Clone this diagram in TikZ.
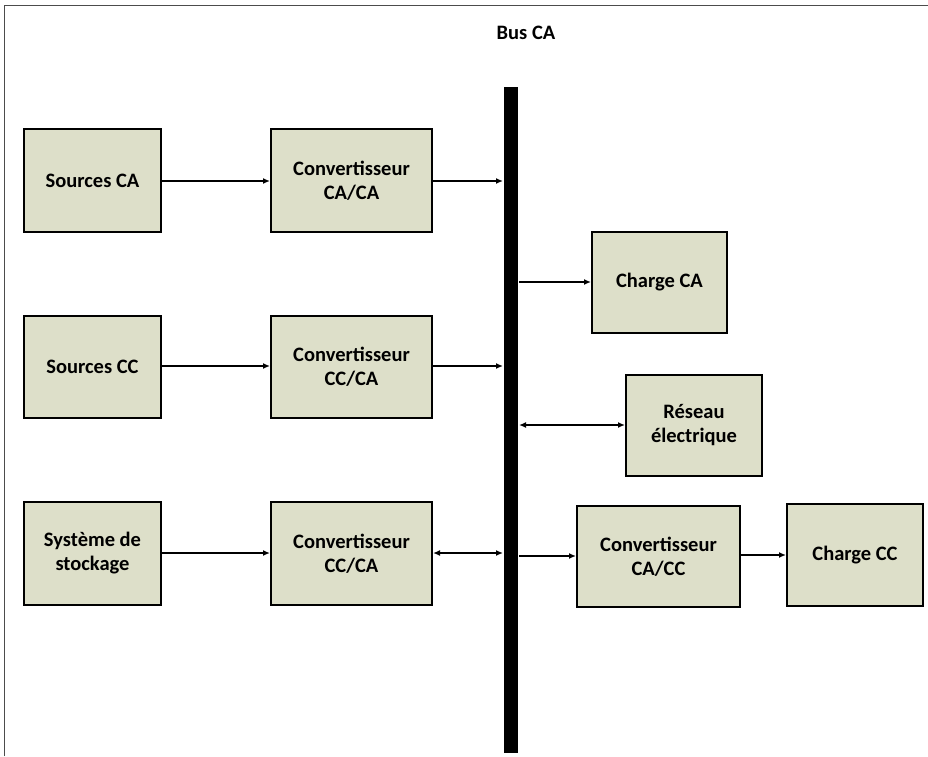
\documentclass[tikz,border=0pt]{standalone}
\usepackage{fontspec}
\setmainfont{Carlito}
\usetikzlibrary{arrows.meta}
\definecolor{boxfill}{HTML}{DDDFC9}
\tikzset{
  lbl/.style={font=\bfseries\fontsize{20.5}{24}\selectfont},
  blk/.style={lbl, draw=black, line width=2pt, fill=boxfill, inner sep=0pt, align=center},
  conn/.style={line width=1.6pt, -{Latex[length=7pt,width=6pt]}},
  dconn/.style={line width=1.6pt, {Latex[length=7pt,width=6pt]}-{Latex[length=7pt,width=6pt]}}
}
\newcommand{\bx}[6]{\node[blk, minimum width=#4pt-#2pt, minimum height=#5pt-#3pt] (#1) at ({(#2+#4)/2},{(#3+#5)/2}) {#6};}
\begin{document}
\begin{tikzpicture}[x=1pt,y=-1pt]
\useasboundingbox (0,0) rectangle (928,756);
\draw[line width=1pt, black!70] (4,756) -- (4,5) -- (928,5);
\node[lbl] (title) at (526,33) {Bus CA};
\fill (504,87) rectangle (518,753);
\coordinate (busL) at (503,0);
\coordinate (busR) at (519,0);
\bx{sca}{24}{129}{161}{232}{Sources CA}
\bx{c1}{271}{129}{432}{232}{Convertisseur\\CA/CA}
\bx{chca}{592}{232}{727}{333}{Charge CA}
\bx{scc}{24}{316}{161}{418}{Sources CC}
\bx{c2}{271}{316}{432}{418}{Convertisseur\\CC/CA}
\bx{res}{626}{375}{762}{476}{Réseau\\électrique}
\bx{sto}{24}{502}{161}{605}{Système de\\stockage}
\bx{c3}{271}{502}{432}{605}{Convertisseur\\CC/CA}
\bx{c4}{577}{506}{740}{607}{Convertisseur\\CA/CC}
\bx{chcc}{787}{504}{923}{606}{Charge CC}
\draw[conn] (sca.east |- 0,181) -- (c1.west |- 0,181);
\draw[conn] (c1.east |- 0,181) -- (busL |- 0,181);
\draw[conn] (busR |- 0,282) -- (chca.west |- 0,282);
\draw[conn] (scc.east |- 0,366) -- (c2.west |- 0,366);
\draw[conn] (c2.east |- 0,366) -- (busL |- 0,366);
\draw[dconn] (busR |- 0,425) -- (res.west |- 0,425);
\draw[conn] (sto.east |- 0,553) -- (c3.west |- 0,553);
\draw[dconn] (c3.east |- 0,553) -- (busL |- 0,553);
\draw[conn] (busR |- 0,556) -- (c4.west |- 0,556);
\draw[conn] (c4.east |- 0,555) -- (chcc.west |- 0,555);
\end{tikzpicture}
\end{document}
